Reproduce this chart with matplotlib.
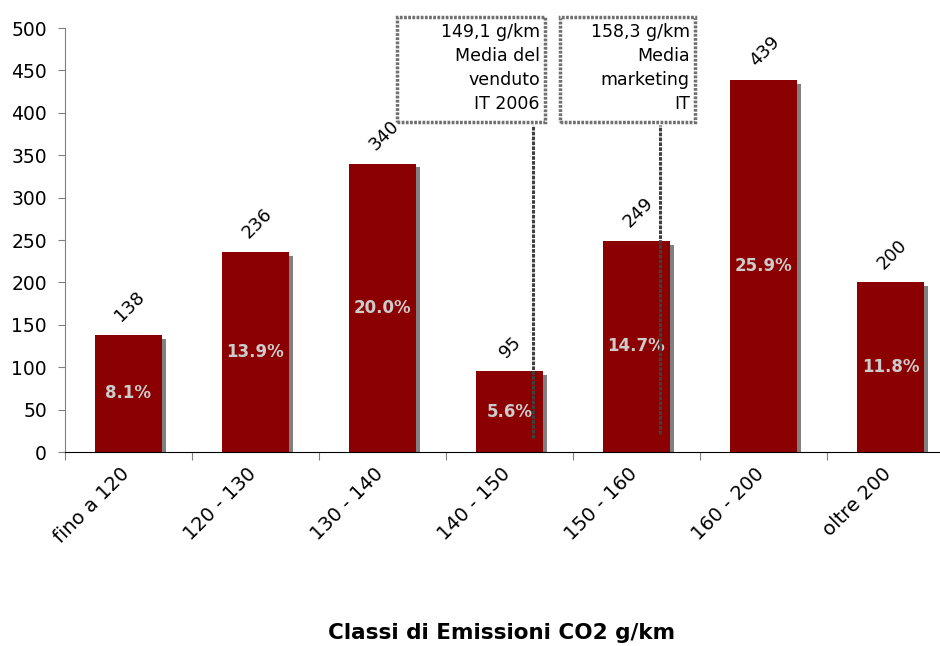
import numpy as np
import matplotlib.pyplot as plt
from matplotlib.patches import Rectangle

classes = ['fino a 120', '120 - 130', '130 - 140', '140 - 150', '150 - 160', '160 - 200', 'oltre 200']
counts = [138, 236, 340, 95, 249, 439, 200]
shares = ['8.1%', '13.9%', '20.0%', '5.6%', '14.7%', '25.9%', '11.8%']

# reference averages: position on the category axis, bottom of the line, box text
ref_pos = [3.185, 4.185]
ref_bottom = [16, 21]
ref_text = ['149,1 g/km\nMedia del\nvenduto\nIT 2006', '158,3 g/km\nMedia\nmarketing\nIT']
ref_box = [(2.114, 3.28), (3.398, 4.46)]

plt.rcParams['font.family'] = 'DejaVu Sans'

fig = plt.figure(figsize=(9.4, 6.46), dpi=100)
ax = fig.add_axes([65 / 940, 1 - 452 / 646, 875 / 940, 424 / 646])

x = np.arange(len(classes))
w = 0.53
dx, dy = 0.032, 4.5

# grey drop shadow behind each bar
ax.bar(x + dx, np.array(counts) - dy, width=w, color='#808080', zorder=1)
ax.bar(x, counts, width=w, color='#8b0000', zorder=2)

for xi, v, s in zip(x, counts, shares):
    ax.annotate(str(v), (xi, v), xytext=(1, 7), textcoords='offset points',
                rotation=45, ha='center', va='bottom', fontsize=13, zorder=5)
    ax.text(xi, v / 2, s, ha='center', va='center', fontsize=12,
            fontweight='bold', color='#cccccc', zorder=4)

for p, b, t, (x0, x1) in zip(ref_pos, ref_bottom, ref_text, ref_box):
    ax.plot([p, p], [b, 386], color='#404040', lw=2.2, ls=(0, (1.2, 0.4)),
            zorder=6, clip_on=False)
    ax.add_patch(Rectangle((x0, 389), x1 - x0, 124, fill=False, ec='#707070',
                           lw=2.5, ls=(0, (0.8, 0.4)), clip_on=False, zorder=7))
    ax.text(x1 - 0.04, 506, t, ha='right', va='top', fontsize=12.5,
            linespacing=1.42, clip_on=False, zorder=8)

ax.set_xlim(-0.5, -0.5 + 875 / 127)
ax.set_ylim(0, 500)
ax.set_yticks(range(0, 501, 50))
ax.set_xticks(x - 0.5, minor=False)
ax.set_xticklabels([''] * len(x))
# category labels hang from a point just left of each category centre
ax.set_xticks(x - 0.07, minor=True)
ax.set_xticklabels(classes, minor=True, rotation=45, ha='right', va='top',
                   rotation_mode='anchor', fontsize=14)
ax.tick_params(axis='x', which='minor', length=0, pad=9)
ax.tick_params(axis='x', which='major', length=6, color='#808080')
ax.tick_params(axis='y', length=5, color='#808080', labelsize=13.5, pad=8)

for side in ['top', 'right']:
    ax.spines[side].set_visible(False)
ax.spines['left'].set_color('#808080')
ax.spines['bottom'].set_color('black')

fig.text(502 / 940, 1 - 633 / 646, 'Classi di Emissioni CO2 g/km', ha='center',
         va='center', fontsize=15.5, fontweight='bold')

fig.savefig('out.png', dpi=100)
